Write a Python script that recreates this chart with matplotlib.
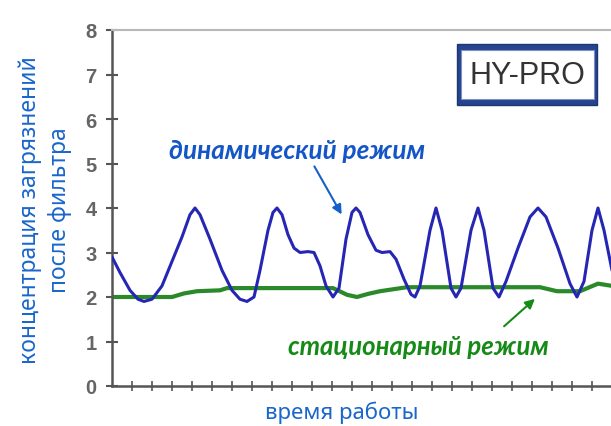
import matplotlib
matplotlib.use('Agg')
import matplotlib.pyplot as plt
import matplotlib.patches as mpatches
import numpy as np

# ─────────────────────────────────────────────────────────────
# Data (x = tick index of working time)
# ─────────────────────────────────────────────────────────────
dyn_x = [0.0, 0.4, 0.9, 1.3, 1.6, 2.0, 2.5, 3.0, 3.5, 3.9, 4.15, 4.4, 4.9, 5.5,
         6.0, 6.4, 6.75, 7.1, 7.4, 7.8, 8.05, 8.25, 8.5, 8.8, 9.1, 9.4, 9.8,
         10.1, 10.4, 10.7, 11.05, 11.35, 11.7, 12.0, 12.2, 12.4, 12.8, 13.2,
         13.5, 13.9, 14.2, 14.6, 14.95, 15.15, 15.4, 15.9, 16.2, 16.5, 16.95,
         17.2, 17.45, 17.95, 18.3, 18.6, 19.05, 19.35, 19.7, 20.3, 20.9, 21.3,
         21.7, 22.3, 22.9, 23.25, 23.6, 24.0, 24.3, 24.6, 25.0]
dyn_y = [2.9, 2.55, 2.15, 1.95, 1.9, 1.95, 2.25, 2.8, 3.35, 3.85, 4.0, 3.85, 3.3, 2.6,
         2.15, 1.95, 1.9, 2.0, 2.6, 3.5, 3.9, 4.0, 3.85, 3.4, 3.1, 3.0, 3.02,
         3.0, 2.7, 2.25, 2.0, 2.2, 3.3, 3.9, 4.0, 3.9, 3.4, 3.05,
         3.0, 3.02, 2.85, 2.4, 2.06, 2.0, 2.25, 3.5, 4.0, 3.5, 2.2,
         2.0, 2.2, 3.5, 4.0, 3.5, 2.2, 2.0, 2.35, 3.1, 3.8, 4.0,
         3.8, 3.1, 2.3, 2.0, 2.35, 3.5, 4.0, 3.5, 2.6]

stat_x = [0.0, 3.0, 3.6, 4.25, 5.4, 5.75, 11.05, 11.75, 12.25, 12.8, 13.4,
          14.75, 21.4, 22.25, 23.4, 24.3, 25.0]
stat_y = [2.0, 2.0, 2.08, 2.13, 2.15, 2.2, 2.2, 2.05, 2.0, 2.07, 2.13,
          2.22, 2.22, 2.13, 2.13, 2.3, 2.25]

y_ticks = [0, 1, 2, 3, 4, 5, 6, 7, 8]
x_ticks = list(range(1, 25))

LABEL_BLUE = '#1a66cc'
DYN_BLUE = '#2626b4'
STAT_GREEN = '#2a8a2a'
TEXT_GREEN = '#168a16'

fig = plt.figure(figsize=(6.11, 4.27), dpi=100)
ax = fig.add_axes([112 / 611, 40 / 427, 500 / 611, 356 / 427])

ax.plot(dyn_x, dyn_y, color=DYN_BLUE, linewidth=2.2, solid_capstyle='round',
        solid_joinstyle='round', zorder=3)
ax.plot(stat_x, stat_y, color=STAT_GREEN, linewidth=3.0, solid_capstyle='round',
        zorder=2)

ax.set_xlim(0, 25)
ax.set_ylim(0, 8)

ax.spines['right'].set_visible(False)
ax.spines['top'].set_color('#b8b8b8')
ax.spines['top'].set_linewidth(1.5)
for s in ('left', 'bottom'):
    ax.spines[s].set_color('#555555')
    ax.spines[s].set_linewidth(1.8)

ax.set_yticks(y_ticks)
ax.set_yticklabels([str(v) for v in y_ticks], fontsize=14.5, fontweight='bold',
                   color='#656565', family='Liberation Sans')
ax.tick_params(axis='y', direction='inout', length=8, width=1.5, color='#555555', pad=7)
ax.set_xticks(x_ticks)
ax.set_xticklabels([])
ax.tick_params(axis='x', direction='inout', length=7, width=1.2, color='#555555')

# annotations
ax.text(9.25, 5.3, 'динамический режим', color='#1456c8', fontsize=18.8,
        fontweight='bold', style='italic', family='Lato',
        ha='center', va='center')
ax.annotate('', xy=(11.55, 3.8), xytext=(10.05, 4.99),
            arrowprops=dict(arrowstyle='-|>', color='#1560c8', lw=1.5,
                            mutation_scale=14))
ax.text(15.3, 0.9, 'стационарный режим', color=TEXT_GREEN, fontsize=18.5,
        fontweight='bold', style='italic', family='Lato',
        ha='center', va='center', clip_on=False)
ax.annotate('', xy=(21.25, 2.0), xytext=(19.5, 1.3),
            arrowprops=dict(arrowstyle='-|>', color='#178a17', lw=1.5,
                            mutation_scale=14))

# HY-PRO logo box
ax.add_patch(mpatches.Rectangle((0.69, 0.789), 0.28, 0.172, transform=ax.transAxes,
                                facecolor='#24448f', edgecolor='#1b3670',
                                linewidth=1, zorder=5))
ax.add_patch(mpatches.Rectangle((0.697, 0.806), 0.266, 0.138, transform=ax.transAxes,
                                facecolor='white', edgecolor='#8090c0',
                                linewidth=0.8, zorder=6))
ax.text(0.83, 0.873, 'HY-PRO', transform=ax.transAxes, fontsize=22,
        family='Liberation Sans', color='#333333', ha='center', va='center', zorder=7)

# axis labels
fig.text(342 / 611, 14 / 427, 'время работы', color=LABEL_BLUE, fontsize=16,
         family='Noto Sans', ha='center', va='center')
fig.text(30 / 611, 217 / 427, 'концентрация загрязнений', color=LABEL_BLUE,
         fontsize=16.5, family='Noto Sans', rotation=90, ha='center', va='center')
fig.text(60 / 611, 217 / 427, 'после фильтра', color=LABEL_BLUE,
         fontsize=16.5, family='Noto Sans', rotation=90, ha='center', va='center')

fig.savefig('out.png', dpi=100)
plt.close(fig)
